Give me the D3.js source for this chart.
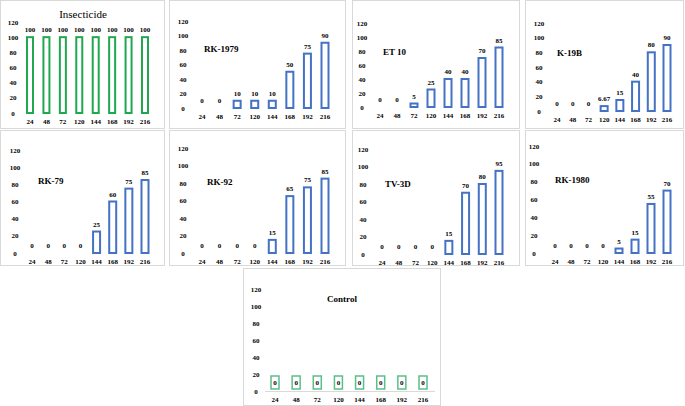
<!DOCTYPE html>
<html>
<head>
<meta charset="utf-8">
<script src="https://cdn.jsdelivr.net/npm/d3@7"></script>
<style>
  body { margin: 0; background: #fff; }
</style>
</head>
<body>
<div id="chart"></div>
<script>
var hours = ["24", "48", "72", "120", "144", "168", "192", "216"];
var yTicks = [0, 20, 40, 60, 80, 100, 120];

var insecticide = [100, 100, 100, 100, 100, 100, 100, 100];
var rk1979 = [0, 0, 10, 10, 10, 50, 75, 90];
var et10 = [0, 0, 5, 25, 40, 40, 70, 85];
var k19b = [0, 0, 0, 6.67, 15, 40, 80, 90];
var rk79 = [0, 0, 0, 0, 25, 60, 75, 85];
var rk92 = [0, 0, 0, 0, 15, 65, 75, 85];
var tv3d = [0, 0, 0, 0, 15, 70, 80, 95];
var rk1980 = [0, 0, 0, 0, 5, 15, 55, 70];
var control = [0, 0, 0, 0, 0, 0, 0, 0];

var W = 685, H = 406;
var FONT = "'Liberation Serif', 'DejaVu Serif', serif";
var svg = d3.select("#chart").append("svg")
    .attr("width", W).attr("height", H)
    .attr("font-family", FONT)
    .attr("font-weight", "bold");

// layout of each panel (box, axis placement, title placement)
var panels = [
    {name: "Insecticide", vals: insecticide, box: [0, 0, 164, 128], ax: 13, y0: 113, y1: 22, x0: 30, x1: 145, bw: 6, tx: 83, ty: 18, anchor: "middle", size: 11, bold: false, color: "#1fa84f"},
    {name: "RK-1979", vals: rk1979, box: [169, 0, 176, 128], ax: 183, y0: 108, y1: 21, x0: 202, x1: 325, bw: 7, tx: 204, ty: 52, anchor: "start", size: 9, bold: true, color: "#4472c4"},
    {name: "ET 10", vals: et10, box: [352, 0, 167, 128], ax: 362, y0: 107, y1: 23, x0: 380, x1: 499, bw: 7, tx: 383, ty: 55, anchor: "start", size: 9, bold: true, color: "#4472c4"},
    {name: "K-19B", vals: k19b, box: [525, 0, 158, 128], ax: 539, y0: 111, y1: 23, x0: 557, x1: 667, bw: 7, tx: 557, ty: 56, anchor: "start", size: 9, bold: true, color: "#4472c4"},
    {name: "RK-79", vals: rk79, box: [0, 130, 164, 135], ax: 15, y0: 253, y1: 150, x0: 32, x1: 145, bw: 7, tx: 38, ty: 184, anchor: "start", size: 9, bold: true, color: "#4472c4"},
    {name: "RK-92", vals: rk92, box: [169, 130, 176, 135], ax: 183, y0: 253, y1: 148, x0: 202, x1: 325, bw: 7, tx: 207, ty: 185, anchor: "start", size: 9, bold: true, color: "#4472c4"},
    {name: "TV-3D", vals: tv3d, box: [352, 130, 167, 135], ax: 363, y0: 254, y1: 149, x0: 382, x1: 499, bw: 7, tx: 385, ty: 187, anchor: "start", size: 9, bold: true, color: "#4472c4"},
    {name: "RK-1980", vals: rk1980, box: [525, 130, 158, 135], ax: 534, y0: 253, y1: 146, x0: 555, x1: 667, bw: 7, tx: 555, ty: 183, anchor: "start", size: 9, bold: true, color: "#4472c4"},
    {name: "Control", vals: control, box: [243, 268, 197, 137], ax: 256, y0: 391, y1: 289, x0: 275, x1: 423, bw: 7, tx: 342, ty: 302, anchor: "middle", size: 9, bold: true, color: "#5cbf8a", boxed: true}
];

panels.forEach(function(p) {
    var g = svg.append("g");

    g.append("rect")
        .attr("x", p.box[0] + 0.5).attr("y", p.box[1] + 0.5)
        .attr("width", p.box[2]).attr("height", p.box[3])
        .attr("fill", "white").attr("stroke", "#d9d9d9");

    var y = d3.scaleLinear().domain([0, 120]).range([p.y0, p.y1]);
    var x = d3.scalePoint().domain(hours).range([p.x0, p.x1]);

    // y tick labels
    g.selectAll("text.ytick").data(yTicks).enter().append("text")
        .attr("class", "ytick")
        .attr("x", p.ax).attr("y", d => y(d) + 2.5)
        .attr("text-anchor", "middle")
        .attr("font-size", 7)
        .attr("fill", "#000")
        .text(d => d);

    // x tick labels
    g.selectAll("text.xtick").data(hours).enter().append("text")
        .attr("class", "xtick")
        .attr("x", d => x(d)).attr("y", p.y0 + 11)
        .attr("text-anchor", "middle")
        .attr("font-size", 7)
        .attr("fill", "#000")
        .text(d => d);

    if (p.boxed) {
        g.append("line")
            .attr("x1", p.x0 - 10).attr("x2", p.x1 + 12)
            .attr("y1", p.y0 + 0.5).attr("y2", p.y0 + 0.5)
            .attr("stroke", "#d9d9d9");
        g.selectAll("rect.lbl").data(p.vals).enter().append("rect")
            .attr("class", "lbl")
            .attr("x", (d, i) => x(hours[i]) - 4)
            .attr("y", d => y(d) - 15)
            .attr("width", 8).attr("height", 13)
            .attr("fill", "white").attr("stroke", p.color).attr("stroke-width", 1.5);
        g.selectAll("text.val").data(p.vals).enter().append("text")
            .attr("class", "val")
            .attr("x", (d, i) => x(hours[i])).attr("y", d => y(d) - 6)
            .attr("text-anchor", "middle")
            .attr("font-size", 7)
            .attr("fill", "#000")
            .text(d => d);
    } else {
        g.selectAll("rect.bar").data(p.vals.map((d, i) => ({h: hours[i], v: d})).filter(d => d.v > 0))
            .enter().append("rect")
            .attr("class", "bar")
            .attr("x", d => x(d.h) - p.bw / 2)
            .attr("y", d => y(d.v))
            .attr("width", p.bw)
            .attr("height", d => p.y0 - y(d.v))
            .attr("fill", "white").attr("stroke", p.color).attr("stroke-width", 2);

        g.selectAll("text.val").data(p.vals).enter().append("text")
            .attr("class", "val")
            .attr("x", (d, i) => x(hours[i])).attr("y", d => y(d) - 5)
            .attr("text-anchor", "middle")
            .attr("font-size", 7)
            .attr("fill", "#000")
            .text(d => d);
    }

    g.append("text")
        .attr("x", p.tx).attr("y", p.ty)
        .attr("text-anchor", p.anchor)
        .attr("font-size", p.size)
        .attr("font-weight", p.bold ? "bold" : "normal")
        .attr("fill", "#000")
        .text(p.name);
});
</script>
</body>
</html>
